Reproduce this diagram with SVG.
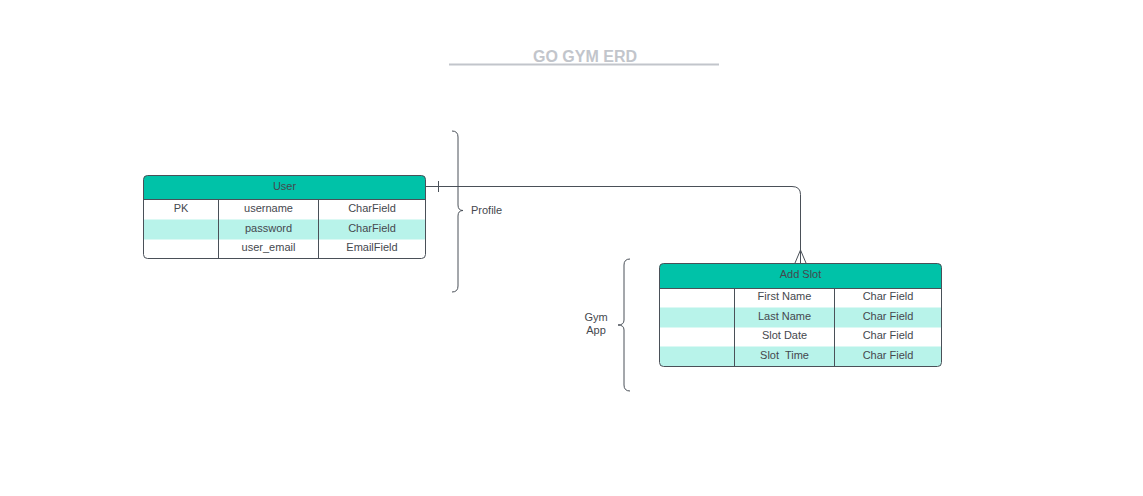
<svg xmlns="http://www.w3.org/2000/svg" width="1143" height="496" viewBox="0 0 1143 496">
<style>
.t{font-family:"Liberation Sans",Arial,sans-serif;font-size:11px;fill:#45484e;text-anchor:middle}
.hdr{fill:#00c2a8}
.alt{fill:#b8f3ea}
.grid{stroke:#4a5058;stroke-width:1;fill:none}
.line{stroke:#4a5058;stroke-width:1;fill:none}
</style>
<rect width="1143" height="496" fill="#ffffff"/>
<g id="title">
<text x="585" y="62" font-family="Liberation Sans,Arial,sans-serif" font-size="16" font-weight="bold" fill="#c2c5cb" text-anchor="middle">GO GYM ERD</text>
<line x1="449" y1="64.5" x2="719" y2="64.5" stroke="#c2c5cb" stroke-width="2"/>
</g>
<g id="connectors">
<path class="line" d="M426,186.5 H792 Q800.5,186.5 800.5,194.5 V263"/>
<line class="line" x1="438.5" y1="181" x2="438.5" y2="192"/>
<path class="line" d="M795,263 L800.5,250 L806,263"/>
</g>
<g id="user">
<rect x="143.5" y="175.5" width="282" height="83" rx="4" fill="#ffffff"/>
<path class="hdr" d="M143.5,199.5 V179.5 Q143.5,175.5 147.5,175.5 H421.5 Q425.5,175.5 425.5,179.5 V199.5 Z"/>
<rect class="alt" x="144" y="219.5" width="281" height="20"/>
<rect class="grid" x="143.5" y="175.5" width="282" height="83" rx="4"/>
<line class="grid" x1="143.5" y1="199.5" x2="425.5" y2="199.5"/>
<line class="grid" x1="218.5" y1="199.5" x2="218.5" y2="258.5"/>
<line class="grid" x1="318.5" y1="199.5" x2="318.5" y2="258.5"/>
<text class="t" x="284.5" y="190">User</text>
<text class="t" x="181" y="212">PK</text>
<text class="t" x="268.5" y="212">username</text>
<text class="t" x="372" y="212">CharField</text>
<text class="t" x="268.5" y="232">password</text>
<text class="t" x="372" y="232">CharField</text>
<text class="t" x="268.5" y="251">user_email</text>
<text class="t" x="372" y="251">EmailField</text>
</g>
<g id="addslot">
<rect x="659.5" y="263.5" width="282" height="103" rx="4" fill="#ffffff"/>
<path class="hdr" d="M659.5,288.5 V267.5 Q659.5,263.5 663.5,263.5 H937.5 Q941.5,263.5 941.5,267.5 V288.5 Z"/>
<rect class="alt" x="660" y="307.5" width="281" height="20"/>
<rect class="alt" x="660" y="346.5" width="281" height="19.5"/>
<rect class="grid" x="659.5" y="263.5" width="282" height="103" rx="4"/>
<line class="grid" x1="659.5" y1="288.5" x2="941.5" y2="288.5"/>
<line class="grid" x1="734.5" y1="288.5" x2="734.5" y2="366.5"/>
<line class="grid" x1="834.5" y1="288.5" x2="834.5" y2="366.5"/>
<text class="t" x="800.5" y="278">Add Slot</text>
<text class="t" x="784.5" y="300">First Name</text>
<text class="t" x="888" y="300">Char Field</text>
<text class="t" x="784.5" y="320">Last Name</text>
<text class="t" x="888" y="320">Char Field</text>
<text class="t" x="784.5" y="339">Slot Date</text>
<text class="t" x="888" y="339">Char Field</text>
<text class="t" x="784.5" y="359" xml:space="preserve">Slot  Time</text>
<text class="t" x="888" y="359">Char Field</text>
</g>
<g id="profile">
<path class="line" d="M452,131 Q458,131 458,137 V205 Q458,210.5 463,210.5 Q458,210.5 458,216 V286 Q458,292 452,292"/>
<text class="t" x="471" y="214" style="text-anchor:start">Profile</text>
</g>
<g id="gymapp">
<path class="line" d="M630,259 Q624,259 624,265 V320 Q624,325 618,325 Q624,325 624,330 V385 Q624,391 630,391"/>
<text class="t" x="596" y="321">Gym</text>
<text class="t" x="596" y="334">App</text>
</g>
</svg>
